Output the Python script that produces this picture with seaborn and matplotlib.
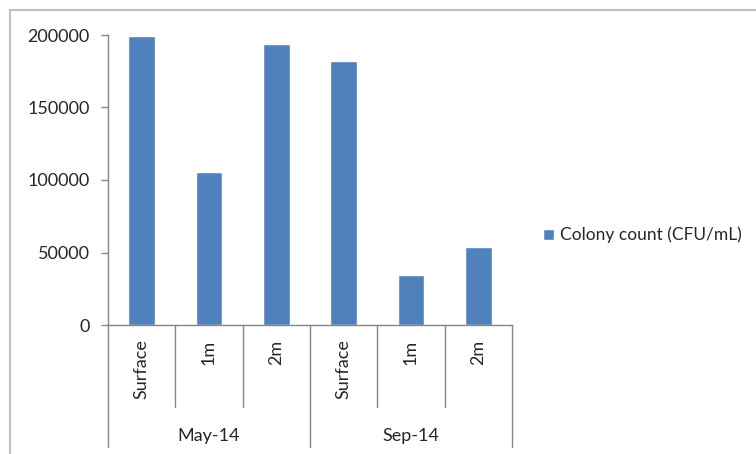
import matplotlib.pyplot as plt
import matplotlib.transforms as mtransforms
from matplotlib.lines import Line2D
import pandas as pd
import seaborn as sns

# data
depths = ["Surface", "1m", "2m", "Surface", "1m", "2m"]
months = ["May-14", "May-14", "May-14", "Sep-14", "Sep-14", "Sep-14"]
colony_count = [199500, 105500, 193500, 182000, 34500, 53800]
series_name = "Colony count (CFU/mL)"

df = pd.DataFrame({"slot": range(len(depths)), "count": colony_count})

sns.set_theme(style="white")
plt.rcParams["font.family"] = ["Lato", "DejaVu Sans"]
text_col = "#262626"
axis_col = "#868686"

fig = plt.figure(figsize=(7.56, 4.54), dpi=100)
ax = fig.add_axes([108 / 756, 129 / 454, 404 / 756, 290 / 454])

sns.barplot(data=df, x="slot", y="count", color="#4F81BD", saturation=1,
            width=0.4, ax=ax, label=series_name)

ax.set_xlim(-0.5, len(depths) - 0.5)
ax.set_ylim(0, 200000)
ax.set_yticks(range(0, 200001, 50000))
ax.set_yticklabels([str(v) for v in range(0, 200001, 50000)], fontsize=13, color=text_col)
ax.tick_params(axis="y", left=True, length=5, width=1, color=axis_col, pad=8)
ax.set_xticks([])
ax.set_xlabel("")
ax.set_ylabel("")
for side in ["top", "right"]:
    ax.spines[side].set_visible(False)
for side in ["left", "bottom"]:
    ax.spines[side].set_color(axis_col)
    ax.spines[side].set_linewidth(1)

# multi-level category axis
trans = mtransforms.blended_transform_factory(ax.transData, ax.transAxes)
for i in range(len(depths) + 1):
    edge = i - 0.5
    bottom = -0.421 if i % 3 == 0 else -0.283
    ax.plot([edge, edge], [0, bottom], color=axis_col, lw=1, transform=trans, clip_on=False)
for i, d in enumerate(depths):
    ax.text(i, -0.05, d, rotation=90, ha="center", va="top", fontsize=13,
            color=text_col, transform=trans)
for g, start in enumerate(range(0, len(months), 3)):
    ax.text(start + 1, -0.383, months[start], ha="center", va="center", fontsize=13,
            color=text_col, transform=trans)

# legend
ax.legend(loc="center left", bbox_to_anchor=(543 / 756, 219 / 454),
          bbox_transform=fig.transFigure, frameon=False, fontsize=12.5,
          borderpad=0, borderaxespad=0,
          handlelength=0.62, handleheight=0.62, handletextpad=0.35, labelcolor=text_col)

# chart frame
fig.add_artist(Line2D([10 / 756, 10 / 756], [0, 1 - 10 / 454], color="#BFBFBF", lw=1.5,
                      transform=fig.transFigure))
fig.add_artist(Line2D([10 / 756, 1], [1 - 10 / 454, 1 - 10 / 454], color="#BFBFBF", lw=1.5,
                      transform=fig.transFigure))

fig.savefig("out.png", dpi=100)
